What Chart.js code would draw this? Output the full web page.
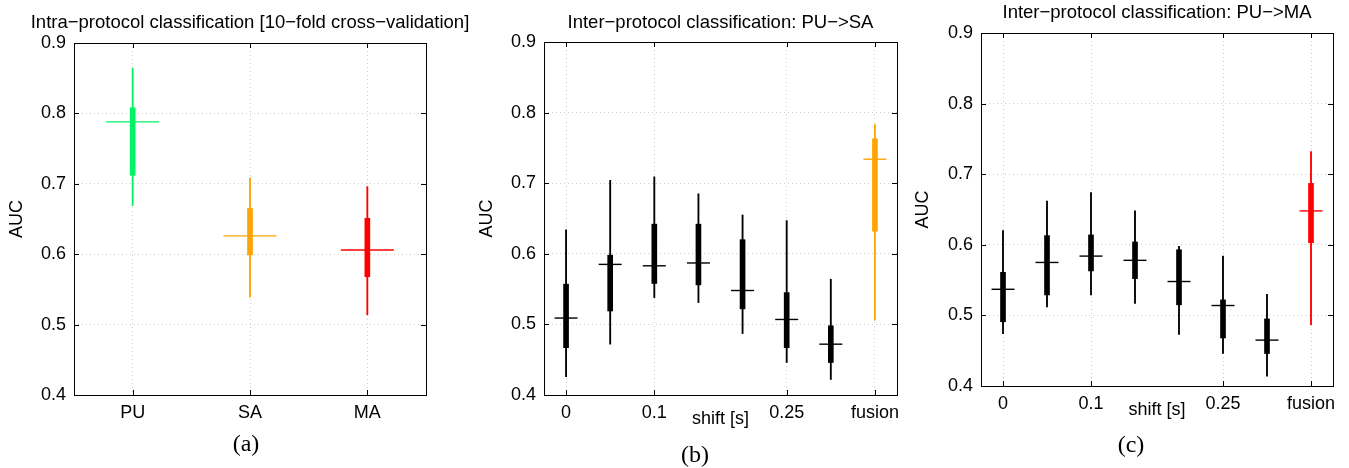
<!DOCTYPE html>
<html>
<head>
  <meta charset="UTF-8" />
  <title>AUC – intra/inter protocol classification</title>
  <script src="https://cdn.jsdelivr.net/npm/chart.js"></script>
  <style>
    html, body { margin: 0; padding: 0; background: #fff; }
    .wrap { position: relative; width: 1349px; height: 468px; overflow: hidden; }
    .panel { position: absolute; top: 0; height: 468px; }
    #panelA { left: 0; width: 474px; }
    #panelB { left: 474px; width: 436px; }
    #panelC { left: 910px; width: 439px; }
  </style>
</head>
<body>
  <div class="wrap">
    <div class="panel" id="panelA"><canvas id="chartA"></canvas></div>
    <div class="panel" id="panelB"><canvas id="chartB"></canvas></div>
    <div class="panel" id="panelC"><canvas id="chartC"></canvas></div>
  </div>

  <script>
    // (a) intra-protocol, 10-fold CV
    const intraLabels = ['PU', 'SA', 'MA'];
    const intraMin    = [0.669, 0.539, 0.514];
    const intraQ1     = [0.712, 0.599, 0.568];
    const intraMedian = [0.788, 0.626, 0.606];
    const intraQ3     = [0.808, 0.665, 0.651];
    const intraMax    = [0.864, 0.708, 0.696];
    const intraColors = ['#00f464', '#ffa500', '#ff0000'];

    // (b), (c) shift categories
    const shiftLabels = ['0', '0.05', '0.1', '0.15', '0.2', '0.25', '0.3', 'fusion'];
    const shownShiftTicks = ['0', '0.1', '0.25', 'fusion'];

    // (b) PU -> SA
    const saMin    = [0.426, 0.472, 0.538, 0.531, 0.487, 0.446, 0.422, 0.506];
    const saQ1     = [0.467, 0.519, 0.558, 0.556, 0.522, 0.467, 0.446, 0.632];
    const saMedian = [0.509, 0.585, 0.583, 0.587, 0.548, 0.507, 0.472, 0.734];
    const saQ3     = [0.557, 0.598, 0.642, 0.642, 0.620, 0.545, 0.498, 0.763];
    const saMax    = [0.634, 0.704, 0.709, 0.685, 0.655, 0.647, 0.564, 0.783];
    const saColors = ['#000', '#000', '#000', '#000', '#000', '#000', '#000', '#ffa500'];

    // (c) PU -> MA
    const maMin    = [0.474, 0.512, 0.529, 0.517, 0.473, 0.446, 0.414, 0.487];
    const maQ1     = [0.491, 0.529, 0.563, 0.552, 0.515, 0.468, 0.446, 0.603];
    const maMedian = [0.537, 0.575, 0.584, 0.578, 0.548, 0.514, 0.465, 0.648];
    const maQ3     = [0.561, 0.613, 0.614, 0.604, 0.593, 0.522, 0.495, 0.687];
    const maMax    = [0.620, 0.662, 0.674, 0.648, 0.598, 0.584, 0.530, 0.732];
    const maColors = ['#000', '#000', '#000', '#000', '#000', '#000', '#000', '#ff0000'];

    Chart.defaults.font.family = '"Liberation Sans", Arial, sans-serif';
    Chart.defaults.color = '#000';

    // box frame with small inward ticks, like the gnuplot border
    const framePlugin = {
      id: 'frame',
      afterDraw(chart, args, opts) {
        const { ctx, chartArea: a, scales } = chart;
        ctx.save();
        ctx.strokeStyle = '#000';
        ctx.lineWidth = 1;
        ctx.strokeRect(Math.round(a.left) + 0.5, Math.round(a.top) + 0.5,
          Math.round(a.right - a.left), Math.round(a.bottom - a.top));
        ctx.beginPath();
        scales.y.ticks.forEach((t, i) => {
          const y = Math.round(scales.y.getPixelForTick(i)) + 0.5;
          ctx.moveTo(a.left, y); ctx.lineTo(a.left + 5, y);
          ctx.moveTo(a.right, y); ctx.lineTo(a.right - 5, y);
        });
        scales.x.ticks.forEach((t, i) => {
          if (!opts.shown.includes(chart.data.labels[i])) return;
          const x = Math.round(scales.x.getPixelForTick(i)) + 0.5;
          ctx.moveTo(x, a.bottom); ctx.lineTo(x, a.bottom - 5);
          ctx.moveTo(x, a.top); ctx.lineTo(x, a.top + 5);
        });
        ctx.stroke();
        ctx.restore();
      }
    };

    const textPlugin = {
      id: 'panelText',
      afterDraw(chart, args, o) {
        const { ctx, chartArea: a } = chart;
        const cx = (a.left + a.right) / 2;
        const cy = (a.top + a.bottom) / 2;
        ctx.save();
        ctx.fillStyle = '#000';
        ctx.textAlign = 'center';
        ctx.textBaseline = 'middle';
        ctx.font = '18.5px "Liberation Sans", Arial, sans-serif';
        ctx.fillText(o.title, cx, o.titleY);
        ctx.font = '18px "Liberation Sans", Arial, sans-serif';
        if (o.xTitle) ctx.fillText(o.xTitle, cx, o.xTitleY);
        ctx.save();
        ctx.translate(o.yTitleX, cy);
        ctx.rotate(-Math.PI / 2);
        ctx.fillText('AUC', 0, 0);
        ctx.restore();
        ctx.font = '24px "Liberation Serif", "DejaVu Serif", serif';
        ctx.fillText(o.caption, o.captionX, o.captionY);
        ctx.restore();
      }
    };

    function buildBoxChart(id, p) {
      const ranges = (lo, hi) => lo.map((v, i) => [v, hi[i]]);
      return new Chart(document.getElementById(id), {
        type: 'bar',
        data: {
          labels: p.labels,
          datasets: [
            {
              type: 'line',
              data: p.median,
              showLine: false,
              pointStyle: 'line',
              pointRadius: p.medianRadius,
              pointHoverRadius: p.medianRadius,
              pointBorderColor: p.colors,
              pointBorderWidth: 1.4,
              order: 0
            },
            {
              data: ranges(p.q1, p.q3),
              backgroundColor: p.colors,
              barThickness: 5,
              grouped: false,
              order: 1
            },
            {
              data: ranges(p.min, p.max),
              backgroundColor: p.colors,
              barThickness: 1.2,
              grouped: false,
              order: 2
            }
          ]
        },
        options: {
          responsive: true,
          maintainAspectRatio: false,
          animation: false,
          events: [],
          layout: { padding: { top: p.padTop, right: p.padRight, left: 0, bottom: 0 } },
          plugins: {
            legend: { display: false },
            tooltip: { enabled: false },
            frame: { shown: p.shown },
            panelText: p.text
          },
          scales: {
            x: {
              offset: true,
              grid: {
                offset: false,
                drawTicks: false,
                lineWidth: 1,
                color: c => p.shown.includes(p.labels[c.index]) ? '#cdcdcd' : 'rgba(0,0,0,0)'
              },
              border: { display: false, dash: [1, 3] },
              ticks: {
                autoSkip: false,
                maxRotation: 0,
                padding: 7,
                font: { size: 18 },
                callback: (v, i) => p.shown.includes(p.labels[i]) ? p.labels[i] : ''
              },
              afterFit: s => { s.height = p.xHeight; }
            },
            y: {
              min: 0.4,
              max: 0.9,
              grid: { drawTicks: false, color: '#cdcdcd', lineWidth: 1 },
              border: { display: false, dash: [1, 3] },
              ticks: {
                stepSize: 0.1,
                padding: 8,
                font: { size: 18 },
                callback: v => v.toFixed(1)
              },
              afterFit: s => { s.width = p.yWidth; }
            }
          }
        },
        plugins: [framePlugin, textPlugin]
      });
    }

    buildBoxChart('chartA', {
      labels: intraLabels, shown: intraLabels,
      min: intraMin, q1: intraQ1, median: intraMedian, q3: intraQ3, max: intraMax,
      colors: intraColors, medianRadius: 26.5,
      padTop: 43, padRight: 48, yWidth: 74, xHeight: 73,
      text: { title: 'Intra\u2212protocol classification [10\u2212fold cross\u2212validation]',
              titleY: 23, yTitleX: 17, caption: '(a)', captionX: 246, captionY: 445 }
    });

    buildBoxChart('chartB', {
      labels: shiftLabels, shown: shownShiftTicks,
      min: saMin, q1: saQ1, median: saMedian, q3: saQ3, max: saMax,
      colors: saColors, medianRadius: 11.5,
      padTop: 42, padRight: 13, yWidth: 70, xHeight: 73,
      text: { title: 'Inter\u2212protocol classification: PU\u2212>SA',
              titleY: 23, yTitleX: 13.5, xTitle: 'shift [s]', xTitleY: 419,
              caption: '(b)', captionX: 221, captionY: 456 }
    });

    buildBoxChart('chartC', {
      labels: shiftLabels, shown: shownShiftTicks,
      min: maMin, q1: maQ1, median: maMedian, q3: maQ3, max: maMax,
      colors: maColors, medianRadius: 11.5,
      padTop: 33, padRight: 16, yWidth: 71, xHeight: 82,
      text: { title: 'Inter\u2212protocol classification: PU\u2212>MA',
              titleY: 13, yTitleX: 13, xTitle: 'shift [s]', xTitleY: 410,
              caption: '(c)', captionX: 221, captionY: 446 }
    });
  </script>
</body>
</html>
